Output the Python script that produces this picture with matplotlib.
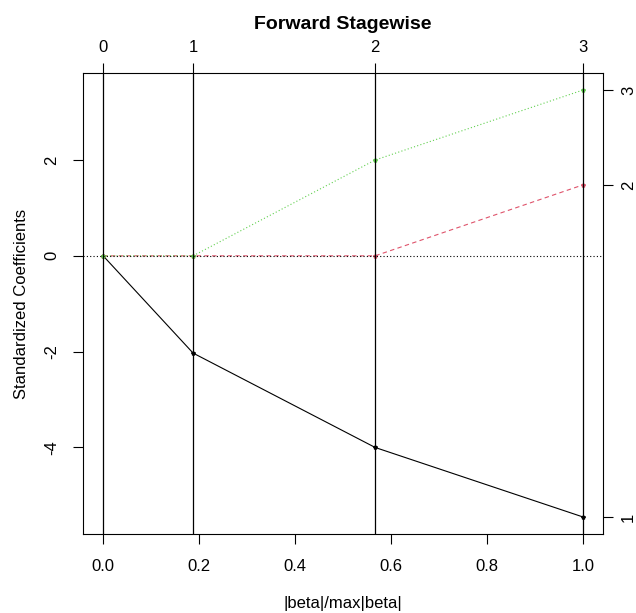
import numpy as np
import matplotlib.pyplot as plt

plt.rcParams['font.family'] = ['Liberation Sans', 'DejaVu Sans']

# -------------------------------------------------
# Data
# -------------------------------------------------

steps = [0, 1, 2, 3]
beta_frac = [0.0, 0.1875, 0.567, 1.0]

coef_1 = [0.0, -2.03, -4.0, -5.45]
coef_2 = [0.0, 0.0, 0.0, 1.48]
coef_3 = [0.0, 0.0, 2.0, 3.46]

series = [coef_1, coef_2, coef_3]
series_names = ["1", "2", "3"]
colors = ["black", "#DF536B", "#61D04F"]
styles = ["-", (0, (4, 3)), (0, (1, 2))]

# -------------------------------------------------
# Figure
# -------------------------------------------------

fig = plt.figure(figsize=(6.36, 6.13), dpi=100)
ax = fig.add_axes([83 / 636, 79 / 613, 520 / 636, 461 / 613])

for vals, col, ls in zip(series, colors, styles):
    ax.plot(beta_frac, vals, color=col, linestyle=ls, linewidth=0.8,
            marker="*", markersize=3)

for xv in beta_frac:
    ax.axvline(xv, color="black", linewidth=0.9)

ax.axhline(0, color="black", linestyle=(0, (1, 2)), linewidth=0.8)

all_vals = np.concatenate([np.array(s) for s in series])
ymin, ymax = all_vals.min(), all_vals.max()
pad = 0.04 * (ymax - ymin)
ax.set_ylim(ymin - pad, ymax + pad)
ax.set_xlim(-0.042, 1.042)

ax.set_xticks([0.0, 0.2, 0.4, 0.6, 0.8, 1.0])
ax.set_xticklabels(["0.0", "0.2", "0.4", "0.6", "0.8", "1.0"])
ax.set_yticks([-4, -2, 0, 2])
ax.set_yticklabels(["-4", "-2", "0", "2"], rotation=90, va="center")

ax.tick_params(axis="x", direction="out", length=7, width=0.8,
               labelsize=12, pad=11)
ax.tick_params(axis="y", direction="out", length=7, width=0.8,
               labelsize=12, pad=10)

# top axis: step numbers
top = ax.secondary_xaxis("top")
top.set_xticks(beta_frac)
top.set_xticklabels([str(s) for s in steps])
top.tick_params(direction="out", length=7, width=0.8, labelsize=12, pad=6)
top.spines["top"].set_visible(False)

# right axis: variable numbers at final coefficients
right = ax.secondary_yaxis("right")
right.set_yticks([s[-1] for s in series])
right.set_yticklabels(series_names, rotation=90, va="center")
right.tick_params(direction="out", length=7, width=0.8, labelsize=12, pad=6)
right.spines["right"].set_visible(False)

for sp in ax.spines.values():
    sp.set_linewidth(0.8)

ax.set_xlabel("|beta|/max|beta|", fontsize=12, labelpad=16)
ax.set_ylabel("Standardized Coefficients", fontsize=12, labelpad=11)
ax.set_title("Forward Stagewise", fontsize=14, fontweight="bold", pad=32)

fig.savefig("out.png", dpi=100)
